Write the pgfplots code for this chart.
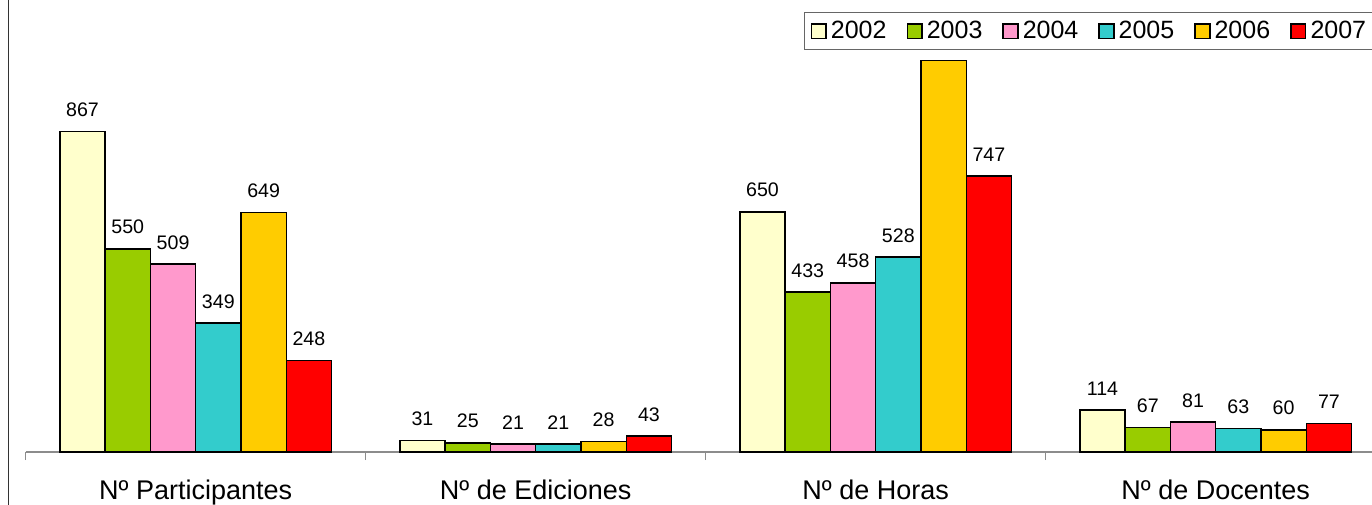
\documentclass[border=0pt]{standalone}
\usepackage{pgfplots}
\pgfplotsset{compat=1.18}
\usepackage{fontspec}
\setmainfont{Liberation Sans}
\definecolor{c2002}{HTML}{FFFFCC}
\definecolor{c2003}{HTML}{99CC00}
\definecolor{c2004}{HTML}{FF99CC}
\definecolor{c2005}{HTML}{33CCCC}
\definecolor{c2006}{HTML}{FFCC00}
\definecolor{c2007}{HTML}{FF0000}
\begin{document}
\begin{tikzpicture}
\begin{axis}[
  scale only axis,
  width=680pt, height=226pt,
  xmin=-0.5, xmax=3.5, ymin=0, ymax=1223.6,
  ybar=0pt, bar width=0.1332,
  axis x line*=bottom, axis y line=none,
  axis line style={draw=gray!90, line width=0.6pt},
  xtick={-0.5,0.5,1.5,2.5,3.5}, xticklabels={},
  tick align=outside, major tick length=4pt,
  tick style={draw=gray!90, line width=0.6pt},
  extra x ticks={0,1,2,3},
  extra x tick labels={Nº Participantes,Nº de Ediciones,Nº de Horas,Nº de Docentes},
  extra x tick style={major tick length=0pt, tick label style={anchor=base, yshift=-23.5pt, font=\fontsize{13.5}{15}\selectfont}},
  /pgf/number format/assume math mode=true,
  /pgf/number format/1000 sep={},
  nodes near coords,
  every node near coord/.append style={font=\fontsize{9.8}{12}\selectfont, inner sep=0pt, yshift=7pt, anchor=south},
  clip=false,
  legend columns=-1,
  legend image code/.code={\draw[#1] (0pt,-3.7pt) rectangle (7.4pt,3.7pt);},
  legend style={at={(0.5723,0.9735)}, anchor=north west, draw=gray!80!black, line width=0.6pt, fill=white,
    font=\fontsize{12.5}{14}\selectfont, inner ysep=2.2pt, inner xsep=3pt,
    /tikz/every even column/.append style={column sep=8pt}},
  every axis plot/.append style={draw=black, line width=0.75pt},
]
\addplot[fill=c2002] coordinates {(0,867) (1,31) (2,650) (3,114)};
\addplot[fill=c2003] coordinates {(0,550) (1,25) (2,433) (3,67)};
\addplot[fill=c2004] coordinates {(0,509) (1,21) (2,458) (3,81)};
\addplot[fill=c2005] coordinates {(0,349) (1,21) (2,528) (3,63)};
\addplot[fill=c2006, point meta=explicit symbolic, nodes near coords={\pgfplotspointmeta}]
  coordinates {(0,649)[649] (1,28)[28] (2,1060)[{}] (3,60)[60]};
\addplot[fill=c2007] coordinates {(0,248) (1,43) (2,747) (3,77)};
\legend{2002,2003,2004,2005,2006,2007}
\end{axis}
\draw[line width=0.6pt, black!80] (-8.6pt,-30pt) -- (-8.6pt,230pt);
\pgfresetboundingbox
\path[use as bounding box] (-12.85pt,-26pt) rectangle (673.15pt,226pt);
\end{tikzpicture}
\end{document}
